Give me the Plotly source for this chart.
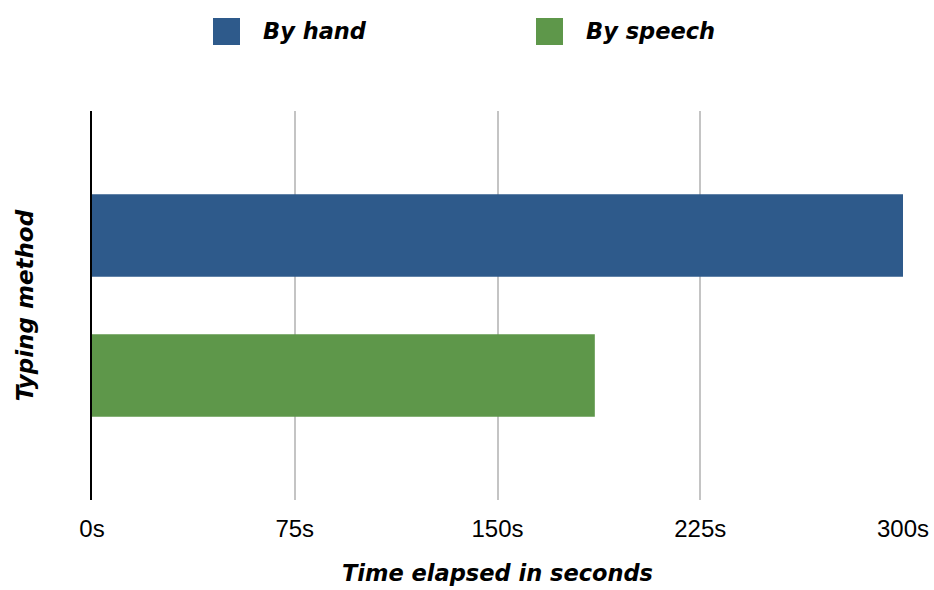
import plotly.graph_objects as go

# ---- data ----
methods = ["By hand", "By speech"]
seconds = [300, 186]
colors = ["#2E5A8B", "#5E974A"]
category = "Typing method"
x_ticks = [0, 75, 150, 225, 300]
x_tick_labels = ["0s", "75s", "150s", "225s", "300s"]
x_title = "Time elapsed in seconds"
y_title = "Typing method"

# ---- layout geometry (pixels) ----
W, H = 934, 590
L, R, T, B = 92, 903, 111, 500

def px(xp):
    return (xp - L) / (R - L)

def py(yp):
    return (B - yp) / (B - T)

fig = go.Figure()
for name, val, col in zip(methods, seconds, colors):
    fig.add_trace(go.Bar(
        x=[val], y=[category], orientation="h", name=name,
        marker=dict(color=col, line=dict(width=0)), showlegend=False,
    ))

heavy = "'DejaVu Sans', 'Open Sans', sans-serif"

# manual legend
legend_sq_x = [213, 536]
legend_txt_x = [261, 584]
shapes = []
annotations = []
for name, col, sx, tx in zip(methods, colors, legend_sq_x, legend_txt_x):
    shapes.append(dict(type="rect", xref="paper", yref="paper",
                       x0=px(sx), x1=px(sx + 27), y0=py(45), y1=py(18),
                       fillcolor=col, line=dict(width=0)))
    annotations.append(dict(xref="paper", yref="paper", x=px(tx), y=py(31),
                            xanchor="left", yanchor="middle", showarrow=False,
                            text=name,
                            font=dict(family=heavy, size=22.5,
                                      color="black", weight="bold", style="italic")))

fig.update_layout(
    width=W, height=H,
    margin=dict(l=L, r=W - R, t=T, b=H - B, autoexpand=False),
    paper_bgcolor="white", plot_bgcolor="white",
    barmode="group", bargap=0.28, bargroupgap=0.41,
    showlegend=False,
    shapes=shapes, annotations=annotations,
    xaxis=dict(
        range=[0, 300], tickvals=x_ticks, ticktext=x_tick_labels,
        showgrid=True, gridcolor="#C4C4C4", gridwidth=2,
        zeroline=False, showline=False, ticks="",
        ticklabelstandoff=12,
        tickfont=dict(family="'Liberation Sans', Arial, sans-serif", size=24, color="black"),
        title=dict(text=x_title, standoff=24,
                   font=dict(family=heavy, size=22.5, color="black", weight="bold", style="italic")),
        automargin=False,
    ),
    yaxis=dict(
        autorange="reversed", showticklabels=False, showgrid=False,
        zeroline=False, showline=True, linecolor="black", linewidth=2, ticks="",
        title=dict(text=y_title, standoff=50,
                   font=dict(family=heavy, size=23, color="black", weight="bold", style="italic")),
        automargin=False,
    ),
)

fig.write_html("out.html")
